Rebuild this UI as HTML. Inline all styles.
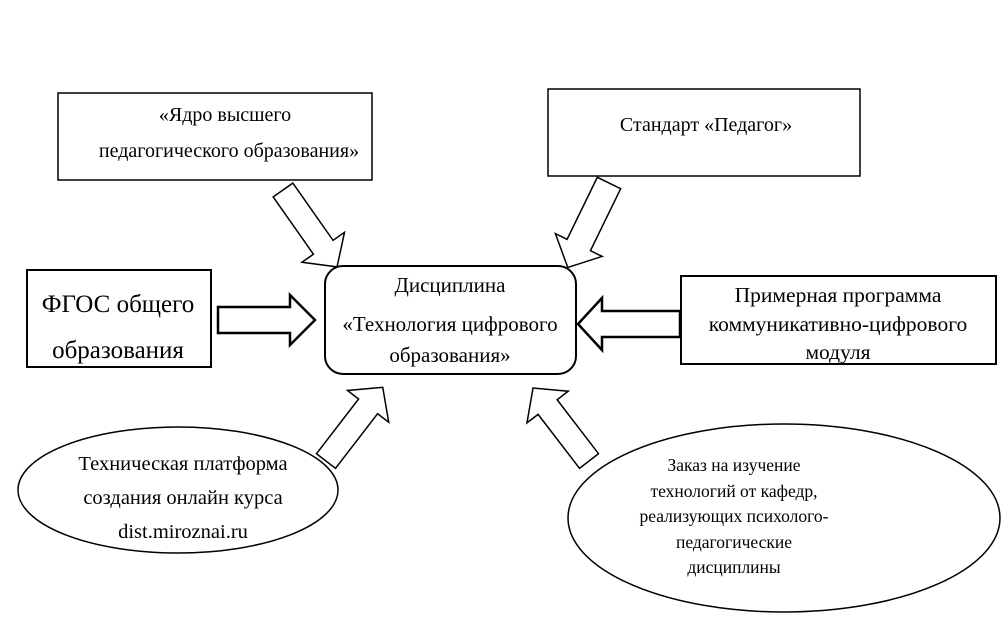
<!DOCTYPE html>
<html><head><meta charset="utf-8"><style>
html,body{margin:0;padding:0;background:#fff;}
svg{display:block;}
text{font-family:"Liberation Serif","DejaVu Serif",serif;fill:#000;}
</style></head><body>
<svg width="1008" height="617" viewBox="0 0 1008 617" xmlns="http://www.w3.org/2000/svg">
<g fill="#fff" stroke="#000" stroke-width="1.5">
<rect x="58" y="93" width="314" height="87"/>
<rect x="548" y="89" width="312" height="87"/>
<rect x="27" y="270" width="184" height="97" stroke-width="2"/>
<rect x="681" y="276" width="315" height="88" stroke-width="2"/>
<rect x="325" y="266" width="251" height="108" rx="18" ry="18" stroke-width="2"/>
<ellipse cx="178" cy="490" rx="160" ry="63"/>
<ellipse cx="784" cy="518" rx="216" ry="94"/>
</g>
<g fill="#fff" stroke="#000" stroke-width="1.5">
<polygon transform="translate(283,190) rotate(54.9)" points="0,-12 70,-12 70,-26 94,0 70,26 70,12 0,12"/>
<polygon transform="translate(609,183) rotate(116)" points="0,-13 69,-13 69,-26 94,0 69,26 69,13 0,13"/>
<polygon transform="translate(218,320)" points="0,-13 72,-13 72,-25 97,0 72,25 72,13 0,13" stroke-width="2.5"/>
<polygon transform="translate(680,324) rotate(180)" points="0,-13 78,-13 78,-26 102,0 78,26 78,13 0,13" stroke-width="2.5"/>
<polygon transform="translate(326,461) rotate(-52.4)" points="0,-12 69,-12 69,-26 93,0 69,26 69,12 0,12"/>
<polygon transform="translate(589,461) rotate(-127.5)" points="0,-12 68,-12 68,-26 92,0 68,26 68,12 0,12"/>
</g>
<g text-anchor="middle">
<text x="225" y="121" font-size="20">«Ядро высшего</text>
<text x="229" y="157" font-size="20">педагогического образования»</text>
<text x="706" y="131" font-size="20">Стандарт «Педагог»</text>
<text x="118" y="312" font-size="25">ФГОС общего</text>
<text x="118" y="358" font-size="25">образования</text>
<text x="838" y="302" font-size="21.5">Примерная программа</text>
<text x="838" y="331" font-size="21.5">коммуникативно-цифрового</text>
<text x="838" y="359" font-size="21.5">модуля</text>
<text x="450" y="292" font-size="21">Дисциплина</text>
<text x="450" y="331" font-size="21">«Технология цифрового</text>
<text x="450" y="362" font-size="21">образования»</text>
<text x="183" y="470" font-size="20.5">Техническая платформа</text>
<text x="183" y="504" font-size="20.5">создания онлайн курса</text>
<text x="183" y="538" font-size="20.5">dist.miroznai.ru</text>
<g font-size="17.5">
<text x="734" y="471">Заказ на изучение</text>
<text x="734" y="497">технологий от кафедр,</text>
<text x="734" y="522">реализующих психолого-</text>
<text x="734" y="548">педагогические</text>
<text x="734" y="573">дисциплины</text>
</g>
</g>
</svg>
</body></html>
